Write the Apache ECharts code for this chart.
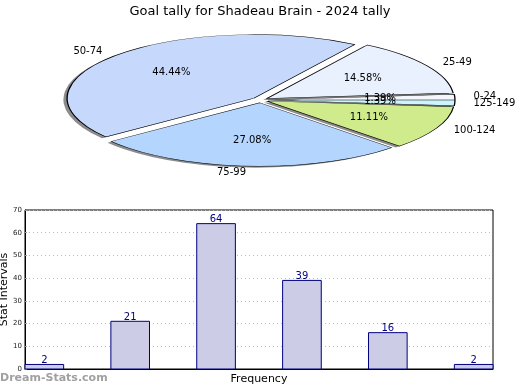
<!DOCTYPE html>
<html><head><meta charset="utf-8">
<script src="https://cdn.jsdelivr.net/npm/echarts@6/dist/echarts.min.js"></script>
<style>html,body{margin:0;padding:0;background:#fff}#c{width:520px;height:390px}</style>
</head><body><div id="c"></div>
<script>
const titleText = 'Goal tally for Shadeau Brain - 2024 tally';
const categories = ['0-24', '25-49', '50-74', '75-99', '100-124', '125-149'];
const counts = [2, 21, 64, 39, 16, 2];
const yTicks = [0, 10, 20, 30, 40, 50, 60, 70];
const pieColors = ['#f4f6fb', '#eaf1fe', '#c6d9fd', '#b4d5fd', '#cfeb8c', '#cdf3fd'];

const total = counts.reduce((a, b) => a + b, 0);
const FONT = 'DejaVu Sans';
const PC = { x: 260, y: 100, r: 187, sy: 0.34, explode: 8 };

const chart = echarts.init(document.getElementById('c'), null, { renderer: 'canvas' });

function pieItem(params, api) {
  const i = params.dataIndex;
  let before = 0;
  for (let k = 0; k < i; k++) before += counts[k];
  const v = api.value(0);
  const a1 = before / total * Math.PI * 2;
  const a2 = (before + v) / total * Math.PI * 2;
  const mid = (a1 + a2) / 2;
  const cx = PC.x + PC.explode * Math.cos(mid);
  const cy = PC.y - PC.explode * Math.sin(mid);
  const common = { scaleY: PC.sy, originX: PC.x, originY: PC.y };
  const shadow = Object.assign({
    type: 'sector', z2: 1,
    shape: { cx: cx - 3.7, cy: cy + 4, r: PC.r, r0: 0, startAngle: -a2, endAngle: -a1, clockwise: true },
    style: { fill: '#8c8c8c', stroke: null }
  }, common);
  const slice = Object.assign({
    type: 'sector', z2: 5,
    shape: { cx: cx, cy: cy, r: PC.r, r0: 0, startAngle: -a2, endAngle: -a1, clockwise: true },
    style: { fill: pieColors[i], stroke: '#000', lineWidth: 1.3, strokeNoScale: true }
  }, common);
  const ecx = cx, ecy = PC.y + (cy - PC.y) * PC.sy;
  const lx = ecx + 1.1 * PC.r * Math.cos(mid);
  const ly = ecy - 1.1 * PC.r * Math.sin(mid) * PC.sy;
  const px = ecx + 0.6 * PC.r * Math.cos(mid);
  const py = ecy - 0.6 * PC.r * Math.sin(mid) * PC.sy;
  const label = {
    type: 'text', z2: 20, x: lx, y: ly,
    style: { text: categories[i], fill: '#000', font: '10px "' + FONT + '"',
      align: Math.cos(mid) > 0 ? 'left' : 'right', verticalAlign: 'middle' }
  };
  const pct = {
    type: 'text', z2: 20, x: px, y: py,
    style: { text: (v / total * 100).toFixed(2) + '%', fill: '#000', font: '10px "' + FONT + '"',
      align: 'center', verticalAlign: 'middle' }
  };
  return { type: 'group', children: [shadow, slice, label, pct] };
}

const BAR_W = 0.45;
function barItem(params, api) {
  const x = api.value(0), v = api.value(1);
  const p0 = api.coord([x, v]);
  const p1 = api.coord([x + BAR_W, 0]);
  return {
    type: 'group', children: [
      { type: 'rect', shape: { x: p0[0], y: p0[1], width: p1[0] - p0[0], height: p1[1] - p0[1] },
        style: { fill: '#ccccE6', stroke: '#000080', lineWidth: 1 } },
      { type: 'text', x: (p0[0] + p1[0]) / 2, y: p0[1] + 1,
        style: { text: String(v), fill: '#000080', font: '10px "' + FONT + '"', align: 'center', verticalAlign: 'bottom' } }
    ]
  };
}

chart.setOption({
  animation: false,
  backgroundColor: '#fff',
  title: { text: titleText, left: 'center', top: 0,
    textStyle: { fontFamily: FONT, fontSize: 13, fontWeight: 'normal', color: '#000' } },
  graphic: [{ type: 'text', left: 0, top: 373,
    style: { text: 'Dream-Stats.com', fill: '#a0a0a0', font: 'bold 11px "' + FONT + '"' } }],
  grid: { left: 25, right: 27, top: 210, bottom: 21, show: true, borderColor: '#000', borderWidth: 1,
    containLabel: false, outerBoundsMode: 'none' },
  xAxis: { type: 'value', min: 0, max: categories.length - 1 + BAR_W,
    axisLabel: { show: false }, axisTick: { show: false }, splitLine: { show: false },
    axisLine: { lineStyle: { color: '#000' } },
    name: 'Frequency', nameLocation: 'middle', nameGap: 5, nameMoveOverlap: false,
    nameTextStyle: { fontFamily: FONT, fontSize: 11, color: '#000' } },
  yAxis: { type: 'value', min: yTicks[0], max: yTicks[yTicks.length - 1], interval: 10,
    axisLine: { show: true, lineStyle: { color: '#000' } },
    axisTick: { show: true, inside: true, length: 2, lineStyle: { color: '#999' } },
    axisLabel: { fontFamily: FONT, fontSize: 7, color: '#222', margin: 3 },
    splitLine: { show: true, lineStyle: { color: '#bbb', type: [1, 3] } },
    name: 'Stat Intervals', nameLocation: 'middle', nameGap: 15, nameMoveOverlap: false,
    nameTextStyle: { fontFamily: FONT, fontSize: 11, color: '#000' } },
  series: [
    { type: 'custom', coordinateSystem: 'none', renderItem: pieItem, data: counts.map(v => [v]), silent: true },
    { type: 'custom', renderItem: barItem, data: counts.map((v, i) => [i, v]), silent: true }
  ]
});
</script></body></html>
